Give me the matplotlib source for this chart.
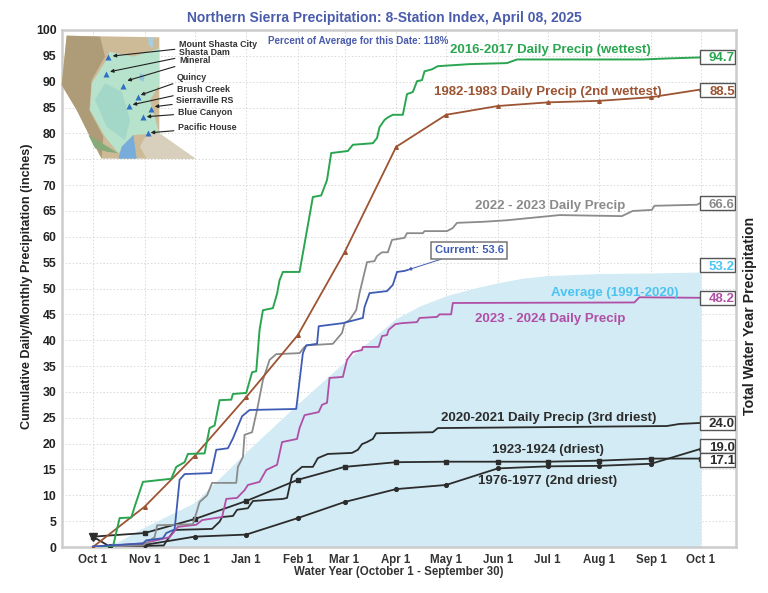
import matplotlib
matplotlib.use("Agg")
import matplotlib.pyplot as plt
from matplotlib.patches import Polygon, Rectangle

plt.rcParams['font.family'] = ['Liberation Sans', 'DejaVu Sans']
plt.rcParams['font.weight'] = 'bold'

W, H = 768, 593

# everything on the x axis is days since Oct 1
month_days = [0, 31, 61, 92, 123, 151, 182, 212, 243, 273, 304, 335, 365]
month_labels = ['Oct 1', 'Nov 1', 'Dec 1', 'Jan 1', 'Feb 1', 'Mar 1', 'Apr 1',
                'May 1', 'Jun 1', 'Jul 1', 'Aug 1', 'Sep 1', 'Oct 1']

avg_days = [0, 15, 30, 61, 92, 123, 151, 182, 196, 212, 228, 243, 258, 273, 304, 335, 365]
avg_vals = [0, 1.0, 3.7, 8.6, 18.4, 27.7, 35.8, 44.2, 46.6, 48.6, 50.0, 51.1, 52.0, 52.5, 52.9, 53.0, 53.2]

wet_days = [0, 12, 16, 23, 25, 30, 47, 50, 55, 57, 67, 70, 73, 76, 83, 84, 92, 95.5, 98, 100, 102, 108,
            110.5, 112, 114, 124, 132, 137, 140.5, 143, 153, 156, 168, 170.5, 172, 175, 177, 180, 186,
            188.5, 192, 194.5, 197.5, 199, 203.5, 207, 226, 248.5, 254.5, 330, 345, 365]
wet_vals = [0, 0.1, 5.6, 5.7, 7.8, 12.6, 13.2, 15.5, 16.4, 18, 18.1, 23, 23.5, 28.4, 28.5, 29.6, 29.8,
            33.8, 34, 42, 45.8, 46.2, 49, 51.6, 53.2, 53.2, 67.7, 68, 71, 76.2, 76.6, 77.8, 78.1, 79.1,
            81.2, 82.6, 83.1, 83.6, 83.6, 87.6, 88, 90.1, 90.3, 92, 92.4, 93, 93.4, 93.6, 94.3, 94.3,
            94.5, 94.7]

second_wet_vals = [0, 7.8, 17.6, 29, 41, 57, 77.4, 83.6, 85.3, 86, 86.3, 87, 88.5]

gray_days = [0, 30, 37, 38.5, 60, 64, 68.5, 71.5, 86, 87, 90, 91, 95.5, 98.5, 102, 104, 106, 110, 124,
             127, 128.5, 144, 149.5, 151, 154, 158, 160, 164.5, 169, 170.5, 173.5, 177, 179.5, 187,
             188.5, 198, 199, 212.5, 216, 218.5, 234, 248.5, 280, 317.5, 324, 335.5, 337, 362.5, 365]
gray_vals = [0, 0.3, 1.9, 4.2, 4.4, 8.7, 10, 12.4, 12.4, 15.5, 17.4, 21.7, 22.2, 26.5, 32.3, 34.2, 36.2,
             37.3, 37.5, 38.7, 39, 39.3, 41.4, 43.3, 43.9, 45.8, 49.1, 55.1, 55.3, 56.3, 57, 57, 59.4,
             59.8, 60.7, 60.7, 61.1, 61.1, 61.7, 62.7, 62.9, 63.2, 64.2, 64, 65, 65.2, 66, 66.2, 66.6]

current_days = [0, 30, 32, 42, 44, 49, 52, 55, 71, 74, 81, 84, 89.5, 94, 122, 126, 128, 134.5, 135.5,
                150, 162, 163, 166, 176.5, 180, 182.5, 187, 189]
current_vals = [0.1, 0.7, 1.3, 1.7, 2.7, 3.4, 13, 14.1, 14.3, 18.8, 19.1, 21, 25.3, 26.5, 26.7, 37.5,
                39, 39.3, 42.7, 43.3, 44.3, 46.4, 49.1, 49.5, 50.7, 53.2, 53.4, 53.6]

mag_days = [0, 30, 46, 51, 62, 65.5, 77.5, 80, 86.5, 91, 93, 100, 104, 110.5, 113.5, 122.5, 124, 127,
            135.5, 137.5, 140.5, 142, 150, 152.5, 156, 161.5, 162, 171.5, 173.5, 176.5, 177.5, 181.5,
            185.5, 194.5, 196, 206.5, 208, 215, 216, 325, 328, 365]
mag_vals = [0, 0.7, 1.9, 3.9, 4.3, 5.2, 5.8, 9.3, 9.5, 11, 12, 12.6, 14.9, 15.9, 20.3, 20.9, 23, 25.5,
            26.1, 27.5, 27.9, 32.7, 32.9, 36.2, 37.7, 38.1, 38.7, 38.7, 40.8, 41, 42, 43.1, 43.3, 43.5,
            44.3, 44.5, 45, 45, 47.2, 47.3, 48.3, 48.2]

dry3_days = [0, 30, 42.5, 44, 49, 71.5, 76, 77.5, 84, 86.5, 93, 96, 114, 116.5, 119.5, 125.5, 132, 135,
             141, 155.5, 159, 161.5, 164.5, 168, 170, 204, 207, 344.5, 352, 365]
dry3_vals = [0, 0.2, 0.3, 1.1, 3.3, 3.5, 4.9, 5.8, 6, 7.2, 7.5, 8.9, 9.3, 9.5, 13.9, 15.5, 15.5, 17.2,
             18, 18.2, 18.8, 19.9, 20.3, 20.9, 22, 22.2, 23, 23.4, 23.8, 24]

driest_vals = [2.0, 2.7, 5.4, 8.9, 13, 15.5, 16.4, 16.5, 16.5, 16.5, 16.7, 17.1, 17.1]

dry2_days = [0, 10, 31, 61, 92, 123, 151, 182, 212, 243, 273, 304, 335, 365]
dry2_vals = [2.0, 0.1, 0.4, 2.0, 2.4, 5.6, 8.7, 11.2, 12, 15.2, 15.6, 15.7, 16.1, 19]

end_labels = ['94.7', '88.5', '66.6', '53.2', '48.2', '24.0', '19.0', '17.1']
end_label_y = [94.8, 88.4, 66.5, 54.5, 48.2, 24.0, 19.5, 16.9]

GREEN = '#2aa650'
BROWN = '#9c5433'
GRAY = '#8b8b8b'
BLUE = '#3f5cb4'
MAGENTA = '#b14fa6'
BLACK = '#2c2c2c'
SKY = '#4cc3f0'
FILL = '#d2ebf4'
TITLE = '#4a5cab'
end_colors = [GREEN, BROWN, GRAY, SKY, MAGENTA, BLACK, BLACK, BLACK]


def add_map(fig):
    """Rough hand drawn version of the station map, in pixels of a 300x160 box scaled 3x"""
    ax = fig.add_axes([50/W, 1 - 180/H, 300/W, 160/H], zorder=5)
    ax.set_xlim(0, 900)
    ax.set_ylim(480, 0)
    ax.axis('off')

    land = [(50, 47), (328, 52), (328, 340), (436, 416), (155, 416), (115, 340), (80, 270), (35, 195)]
    ax.add_patch(Polygon(land, fc='#cdbb98', ec='none'))
    ax.add_patch(Polygon([(50, 47), (150, 50), (165, 110), (125, 180), (118, 270), (160, 350), (155, 416),
                          (115, 340), (80, 270), (35, 195)], fc='#ae9b78', ec='none'))
    ax.add_patch(Polygon([(178, 95), (250, 110), (328, 85), (328, 195), (300, 240), (328, 340), (250, 345),
                          (205, 400), (165, 350), (120, 270), (125, 190), (172, 115)], fc='#b7e2cb', ec='none'))
    ax.add_patch(Polygon([(165, 190), (215, 215), (240, 300), (225, 360), (170, 320), (135, 240)],
                         fc='#a3d8c8', ec='none'))
    ax.add_patch(Polygon([(295, 52), (310, 52), (308, 85), (296, 75)], fc='#a4cfe0', ec='none'))
    ax.add_patch(Polygon([(270, 160), (285, 165), (280, 185), (268, 178)], fc='#8fc4dc', ec='none'))
    ax.add_patch(Polygon([(290, 342), (328, 340), (436, 416), (290, 416), (270, 380)], fc='#d8d0bd', ec='none'))
    ax.add_patch(Polygon([(250, 345), (215, 380), (205, 416), (260, 416), (255, 380)], fc='#78addb', ec='none'))
    ax.add_patch(Polygon([(115, 345), (165, 375), (205, 400), (170, 395), (135, 385)], fc='#86aa78', ec='none'))

    station_x = [175, 168, 220, 265, 237, 304, 280, 293]
    station_y = [112, 163, 198, 232, 257, 266, 292, 338]
    ax.plot(station_x, station_y, ls='none', marker='^', ms=4, color='#2f6fc4', mec='none')

    names = ['Mount Shasta City', 'Shasta Dam', 'Mineral', 'Quincy', 'Brush Creek',
             'Sierraville RS', 'Blue Canyon', 'Pacific House']
    name_x = [387, 387, 387, 381, 382, 379, 383, 384]
    name_y = [74, 97, 122, 171, 207, 241, 277, 324]
    tip_x = [188, 180, 232, 272, 248, 314, 290, 302]
    tip_y = [108, 155, 182, 225, 254, 260, 290, 338]
    for name, nx, ny, tx, ty in zip(names, name_x, name_y, tip_x, tip_y):
        ax.annotate(name, xy=(tx, ty), xytext=(nx, ny), fontsize=6.4, color='#333333', va='center', ha='left',
                    arrowprops=dict(arrowstyle='-|>', color='#222222', lw=0.8, mutation_scale=5,
                                    shrinkA=1, shrinkB=0))


def plot_chart():
    fig = plt.figure(figsize=(W/100, H/100), dpi=100)
    ax = fig.add_axes([62/W, 1 - 547/H, (736 - 62)/W, (547 - 30)/H])

    ax.set_xlim(-18.6, 386)
    ax.set_ylim(0, 100)
    ax.set_xticks(month_days)
    ax.set_xticklabels(month_labels, fontsize=8.3, color='#333333')
    ax.set_yticks(range(0, 101, 5))
    ax.tick_params(axis='y', labelsize=8.8, labelcolor='#222222', length=0, pad=4)
    ax.tick_params(axis='x', length=0, pad=5)
    ax.grid(True, color='#d8d8d8', lw=0.7, ls=(0, (1.5, 2)))
    ax.set_axisbelow(True)
    for spine in ax.spines.values():
        spine.set_color('#cccccc')
        spine.set_linewidth(1.8)

    ax.fill_between(avg_days, 0, avg_vals, color=FILL, lw=0, zorder=1)

    ax.plot(dry2_days, dry2_vals, color=BLACK, lw=1.3, marker='o', ms=2.7, zorder=3)
    ax.plot(dry2_days[:1], dry2_vals[:1], color=BLACK, marker='v', ms=6, zorder=3)
    ax.plot(month_days, driest_vals, color=BLACK, lw=1.3, marker='s', ms=3, zorder=3)
    ax.plot(dry3_days, dry3_vals, color=BLACK, lw=1.3, zorder=3)
    ax.plot(mag_days, mag_vals, color=MAGENTA, lw=1.3, zorder=3)
    ax.plot(gray_days, gray_vals, color=GRAY, lw=1.3, zorder=3)
    ax.plot(current_days, current_vals, color=BLUE, lw=1.3, zorder=4)
    ax.plot(month_days, second_wet_vals, color=BROWN, lw=1.3, marker='^', ms=2.6, zorder=3)
    ax.plot(wet_days, wet_vals, color=GREEN, lw=1.4, zorder=3)

    def px_text(x, y, s, color, size=9.5, **kw):
        fig.text(x/W, 1 - y/H, s, color=color, fontsize=size, ha='center', va='center', zorder=6, **kw)

    px_text(384, 18, 'Northern Sierra Precipitation: 8-Station Index, April 08, 2025', TITLE, size=10)
    px_text(358, 41, 'Percent of Average for this Date: 118%', TITLE, size=7.1)
    px_text(550, 50, '2016-2017 Daily Precip (wettest)', GREEN)
    px_text(548, 92, '1982-1983 Daily Precip (2nd wettest)', BROWN)
    px_text(550, 206, '2022 - 2023 Daily Precip', GRAY)
    px_text(615, 293, 'Average (1991-2020)', SKY)
    px_text(550, 319, '2023 - 2024 Daily Precip', MAGENTA)
    px_text(549, 418, '2020-2021 Daily Precip (3rd driest)', BLACK)
    px_text(548, 450, '1923-1924 (driest)', BLACK)
    px_text(548, 481, '1976-1977 (2nd driest)', BLACK)

    px_text(27, 286, 'Cumulative Daily/Monthly Precipitation (inches)', '#222222', size=9.1, rotation=90)
    px_text(750, 316, 'Total Water Year Precipitation', '#222222', size=10.2, rotation=90)
    px_text(399, 572, 'Water Year (October 1 - September 30)', '#333333', size=8.3)

    ax.annotate('Current: 53.6', xy=(current_days[-1], current_vals[-1]), xytext=(225.7, 57.4), color=BLUE,
                fontsize=8, ha='center', va='center', zorder=6,
                bbox=dict(boxstyle='square,pad=0.3', fc='white', ec='#777777', lw=1.1),
                arrowprops=dict(arrowstyle='-|>', color=BLUE, lw=0.7, mutation_scale=5, shrinkA=0, shrinkB=0))

    for label, y, color in zip(end_labels, end_label_y, end_colors):
        ax.add_patch(Rectangle((364.5, y - 1.35), 21, 2.7, fc='white', ec='#555555', lw=1.0, zorder=5))
        ax.text(385.3, y - 0.3, label, color=color, fontsize=9.5, ha='right', va='center', zorder=6)

    add_map(fig)
    fig.savefig('out.png', dpi=100)


if __name__ == "__main__":
    plot_chart()
